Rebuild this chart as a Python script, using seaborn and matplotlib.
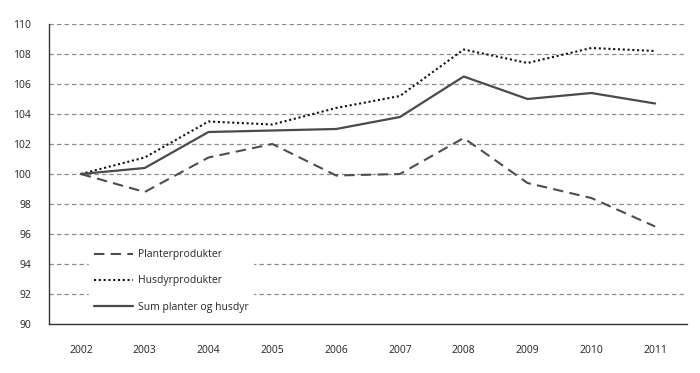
import matplotlib
matplotlib.use("Agg")
import matplotlib.pyplot as plt
import seaborn as sns
import pandas as pd

years = ["2002", "2003", "2004", "2005", "2006", "2007", "2008", "2009", "2010", "2011"]
planter = [100.0, 98.8, 101.1, 102.0, 99.9, 100.0, 102.4, 99.4, 98.4, 96.5]
husdyr = [100.0, 101.1, 103.5, 103.3, 104.4, 105.2, 108.3, 107.4, 108.4, 108.2]
sum_ph = [100.0, 100.4, 102.8, 102.9, 103.0, 103.8, 106.5, 105.0, 105.4, 104.7]
series_names = ["Planterprodukter", "Husdyrprodukter", "Sum planter og husdyr"]

sns.set_theme(style="white")
plt.rcParams["font.family"] = ["Open Sans", "DejaVu Sans"]

rows = []
for name, vals in zip(series_names, [planter, husdyr, sum_ph]):
    for i, v in enumerate(vals):
        rows.append({"pos": i, "value": v, "serie": name})
df = pd.DataFrame(rows)

fig = plt.figure(figsize=(7, 3.73), dpi=100)
ax = fig.add_axes([49/700, 1-324/373, 638/700, 300/373])

styles = {
    "Planterprodukter": dict(color="#4d4d4d", ls=(0, (5, 3)), lw=1.5),
    "Husdyrprodukter": dict(color="#111111", ls=(0, (1, 1.3)), lw=1.5),
    "Sum planter og husdyr": dict(color="#4a4a4a", ls="-", lw=1.6),
}
for name in series_names:
    sub = df[df["serie"] == name]
    st = styles[name]
    sns.lineplot(data=sub, x="pos", y="value", ax=ax, color=st["color"],
                 linestyle=st["ls"], linewidth=st["lw"], label=name, zorder=3)

ax.set_xlim(-0.5, 9.5)
ax.set_ylim(90, 110)
ax.set_yticks(range(90, 111, 2))
ax.set_yticklabels([str(v) for v in range(90, 111, 2)], fontsize=7.5, color="#222222")
ax.set_xticks([i + 0.5 for i in range(-1, 10)])
ax.set_xticklabels([])
ax.set_xticks(range(10), minor=True)
ax.set_xticklabels(years, minor=True, fontsize=7.5, color="#222222")
ax.tick_params(axis="x", which="minor", length=0, pad=15)
ax.tick_params(axis="x", which="major", direction="out", length=4, width=0.8, color="#333333")
ax.tick_params(axis="y", direction="out", length=5, width=0.8, color="#333333", pad=8)
ax.set_xlabel("")
ax.set_ylabel("")

for y in range(92, 111, 2):
    ax.axhline(y, color="#8c8c8c", lw=0.9, ls=(0, (3.5, 2.5)), zorder=1)

for s in ["top", "right"]:
    ax.spines[s].set_visible(False)
for s in ["left", "bottom"]:
    ax.spines[s].set_color("#333333")
    ax.spines[s].set_linewidth(1.0)

leg = ax.legend(loc="lower left", bbox_to_anchor=(0.055, 0.005), frameon=True,
                fontsize=7.5, handlelength=3.7, labelspacing=1.45,
                handletextpad=0.5, borderpad=0.45, fancybox=False)
leg.get_frame().set_facecolor("white")
leg.get_frame().set_edgecolor("white")
leg.get_frame().set_alpha(1)
leg.set_zorder(5)

fig.savefig("out.png", dpi=100)
